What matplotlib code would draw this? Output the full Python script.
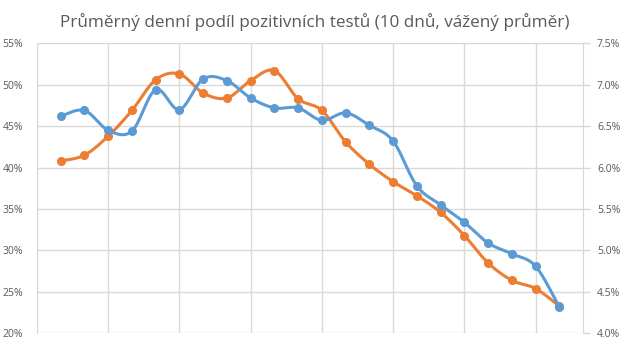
import numpy as np
import matplotlib.pyplot as plt

# ── Data ──────────────────────────────────────────────────────
# orange series, left axis (%)
orange = [40.8, 41.5, 43.8, 46.9, 50.6, 51.3, 49.0, 48.4, 50.5, 51.7, 48.3,
          46.9, 43.1, 40.4, 38.3, 36.6, 34.6, 31.8, 28.5, 26.4, 25.4, 23.3]
# blue series, right axis (%)
blue = [6.62, 6.69, 6.45, 6.44, 6.94, 6.70, 7.07, 7.05, 6.84, 6.72, 6.72,
        6.57, 6.66, 6.51, 6.32, 5.78, 5.55, 5.34, 5.09, 4.96, 4.81, 4.32]

left_ticks = [20, 25, 30, 35, 40, 45, 50, 55]
right_ticks = [4.0, 4.5, 5.0, 5.5, 6.0, 6.5, 7.0, 7.5]
title = "Průměrný denní podíl pozitivních testů (10 dnů, vážený průměr)"

BLUE = '#5B9BD5'
ORANGE = '#ED7D31'
GRID = '#D9D9D9'
TXT = '#595959'

plt.rcParams['font.family'] = ['Open Sans', 'DejaVu Sans']


def smooth(x, y, n=24):
    # Excel-like smoothed line (Catmull-Rom -> cubic Bezier)
    x = np.asarray(x, float)
    y = np.asarray(y, float)
    px = np.concatenate([[x[0]], x, [x[-1]]])
    py = np.concatenate([[y[0]], y, [y[-1]]])
    t = np.linspace(0, 1, n)
    xs, ys = [], []
    for i in range(1, len(px) - 2):
        p0 = np.array([px[i], py[i]])
        p3 = np.array([px[i + 1], py[i + 1]])
        p1 = p0 + (p3 - np.array([px[i - 1], py[i - 1]])) / 6
        p2 = p3 - (np.array([px[i + 2], py[i + 2]]) - p0) / 6
        b = (np.outer((1 - t) ** 3, p0) + np.outer(3 * (1 - t) ** 2 * t, p1)
             + np.outer(3 * (1 - t) * t ** 2, p2) + np.outer(t ** 3, p3))
        xs.extend(b[:, 0])
        ys.extend(b[:, 1])
    return np.array(xs), np.array(ys)


x = np.arange(1, len(orange) + 1)

fig = plt.figure(figsize=(6.3, 3.54), dpi=100)
ax = fig.add_axes([37 / 630, 1 - 333.3 / 354, 546 / 630, 290 / 354])
ax2 = ax.twinx()

ax.set_xlim(0, 23)
ax.set_ylim(20, 55)
ax2.set_ylim(4.0, 7.5)

ax.set_yticks(left_ticks)
ax.set_yticklabels([f'{v}%' for v in left_ticks])
ax2.set_yticks(right_ticks)
ax2.set_yticklabels([f'{v:.1f}%' for v in right_ticks])
ax.set_xticks(np.arange(0, 22, 3))
ax.set_xticklabels([])

ax.grid(True, color=GRID, lw=1)
ax.set_axisbelow(True)
ax.tick_params(axis='x', length=0)
ax.tick_params(axis='y', length=0, labelsize=7.5, labelcolor=TXT, pad=10)
ax2.tick_params(axis='y', length=5, width=1, color=GRID, labelsize=7.5,
                labelcolor=TXT, pad=5)

for sp in ['top', 'bottom', 'right']:
    ax.spines[sp].set_visible(False)
ax.spines['left'].set_color(GRID)
for sp in ['top', 'bottom', 'left']:
    ax2.spines[sp].set_visible(False)
ax2.spines['right'].set_color(GRID)

sx, sy = smooth(x, orange)
ax.plot(sx, sy, color=ORANGE, lw=2.2, solid_capstyle='round')
ax.plot(x, orange, 'o', color=ORANGE, ms=5.5)

sx, sy = smooth(x, blue)
ax2.plot(sx, sy, color=BLUE, lw=2.2, solid_capstyle='round')
ax2.plot(x, blue, 'o', color=BLUE, ms=5.5)

fig.text(0.5, 1 - 22 / 354, title, ha='center', va='center',
         fontsize=12.3, color=TXT)

fig.savefig('out.png', dpi=100)
